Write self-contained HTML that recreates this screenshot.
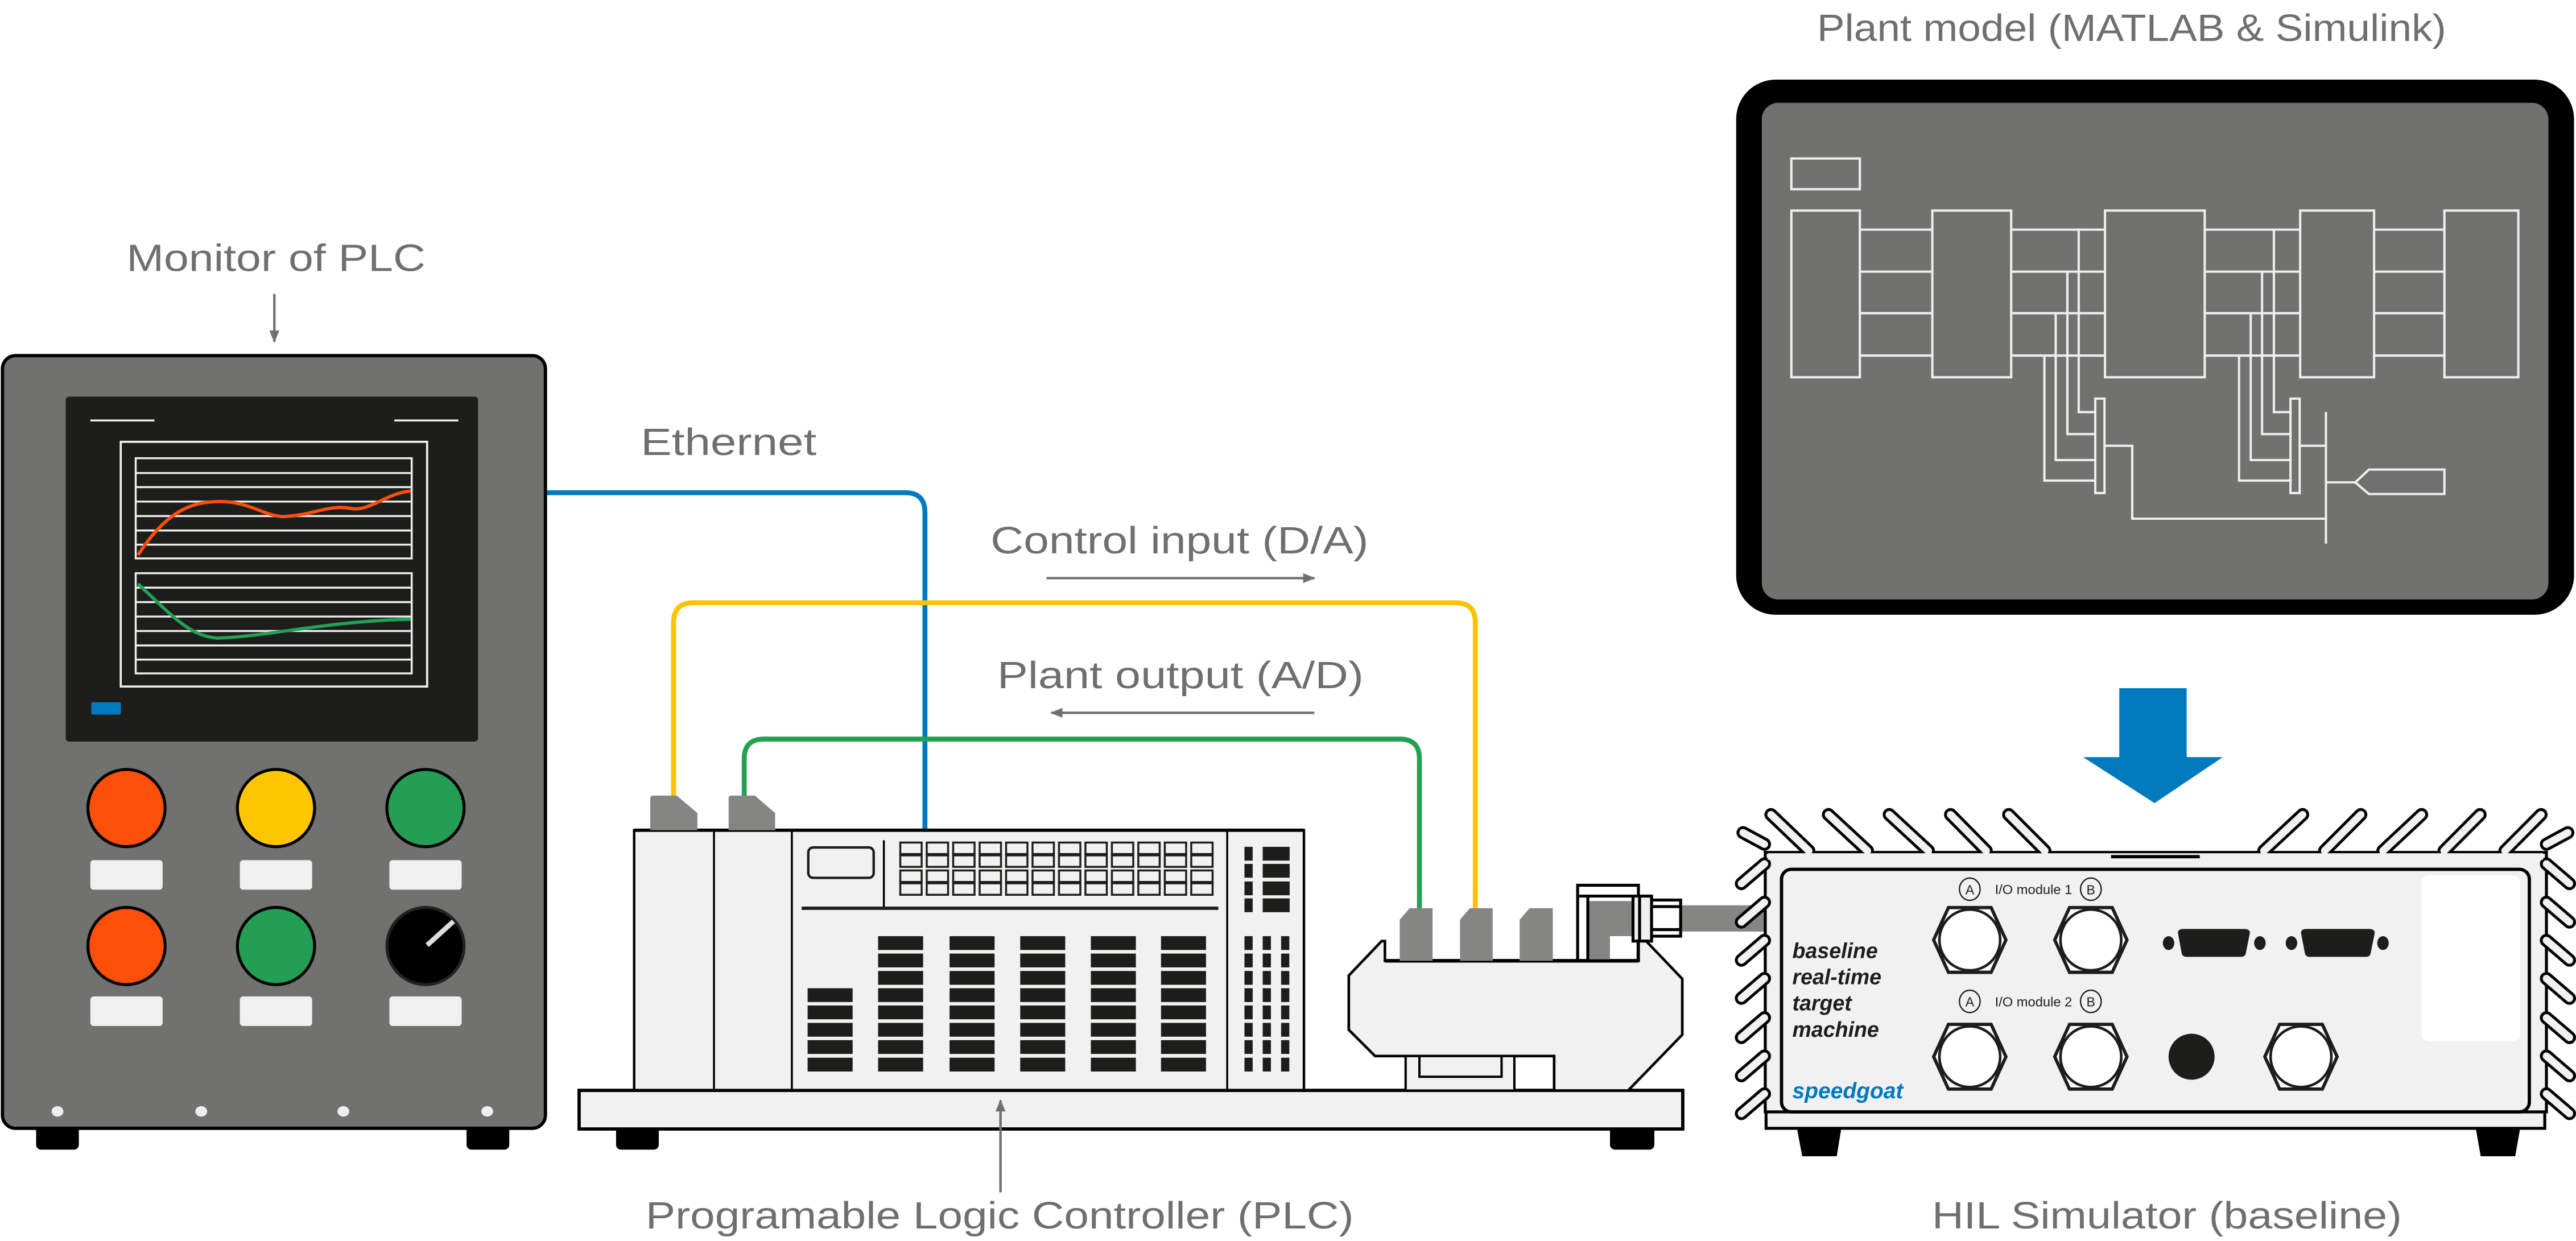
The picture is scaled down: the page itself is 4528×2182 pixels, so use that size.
<!DOCTYPE html>
<html><head><meta charset="utf-8"><style>
html,body{margin:0;padding:0;background:#fff;}
svg{display:block;}
text{font-family:"Liberation Sans",sans-serif;}
</style></head><body>
<svg width="4528" height="2182" viewBox="0 0 1568 755.6" xmlns="http://www.w3.org/2000/svg">
<rect width="1568" height="756" fill="#fff"/>
<defs>
<marker id="ah" viewBox="0 0 10 10" refX="9" refY="5" markerWidth="5" markerHeight="5" orient="auto"><path d="M0,1 L10,5 L0,9 Z" fill="#707070"/></marker>
</defs>

<!-- labels -->
<g fill="#6f6f6e" font-size="23">
<text x="1106" y="25" textLength="383" lengthAdjust="spacingAndGlyphs">Plant model (MATLAB &amp; Simulink)</text>
<text x="77" y="165" textLength="182" lengthAdjust="spacingAndGlyphs">Monitor of PLC</text>
<text x="390" y="277" textLength="107" lengthAdjust="spacingAndGlyphs">Ethernet</text>
<text x="603" y="337" textLength="230" lengthAdjust="spacingAndGlyphs">Control input (D/A)</text>
<text x="607" y="419" textLength="223" lengthAdjust="spacingAndGlyphs">Plant output (A/D)</text>
<text x="393" y="748" textLength="431" lengthAdjust="spacingAndGlyphs">Programable Logic Controller (PLC)</text>
<text x="1176" y="748" textLength="286" lengthAdjust="spacingAndGlyphs">HIL Simulator (baseline)</text>
</g>
<g stroke="#707070" stroke-width="1.5" fill="none" marker-end="url(#ah)">
<line x1="167" y1="179" x2="167" y2="208"/>
<line x1="637" y1="352" x2="800" y2="352"/>
<line x1="800" y1="434" x2="640" y2="434"/>
</g>

<!-- wires -->
<path d="M332,300 H551 Q563,300 563,312 V506" fill="none" stroke="#0079bd" stroke-width="3"/>
<path d="M410,486 V379 Q410,367 422,367 H886 Q898,367 898,379 V555" fill="none" stroke="#fec200" stroke-width="3"/>
<path d="M453,486 V462 Q453,450 465,450 H852 Q864,450 864,462 V555" fill="none" stroke="#22a055" stroke-width="3"/>

<!-- PLC monitor -->
<rect x="22" y="684" width="26" height="16" rx="3" fill="#000"/>
<rect x="284" y="684" width="26" height="16" rx="3" fill="#000"/>
<rect x="1.5" y="216.5" width="330.5" height="470.5" rx="8" fill="#717270" stroke="#000" stroke-width="2"/>
<rect x="40" y="241.5" width="251" height="210" rx="2" fill="#1d1d1b"/>
<g stroke="#eee" stroke-width="1.2"><line x1="55" y1="256" x2="94" y2="256"/><line x1="240" y1="256" x2="279" y2="256"/></g>
<rect x="73.5" y="269" width="186.5" height="149" fill="none" stroke="#eee" stroke-width="1.3"/>
<g fill="none" stroke="#eee" stroke-width="1.2">
<rect x="82.6" y="279" width="168" height="61"/>
<path d="M83,288 H250 M83,296.6 H250 M83,305.4 H250 M83,314.2 H250 M83,323 H250 M83,331.6 H250"/>
<rect x="82.6" y="349" width="168" height="61"/>
<path d="M83,357.8 H250 M83,366.6 H250 M83,375.4 H250 M83,384.2 H250 M83,393 H250 M83,401.6 H250"/>
</g>
<path d="M84,338 C100,313 115,306 130,305.5 C150,304 160,314 172,314.5 C190,314 200,307 213,309.5 C225,312 235,300 250,299" fill="none" stroke="#fb4f0a" stroke-width="2"/>
<path d="M84,355.5 C105,375 115,387 132,388.5 C160,388 200,378 250,377" fill="none" stroke="#22a055" stroke-width="2"/>
<rect x="55.6" y="427.6" width="18" height="7.5" rx="1" fill="#0079bd"/>
<g stroke="#000" stroke-width="1.8">
<circle cx="77" cy="492" r="23.5" fill="#fb4f0a"/>
<circle cx="168" cy="492" r="23.5" fill="#fec600"/>
<circle cx="259" cy="492" r="23.5" fill="#239f55"/>
<circle cx="77" cy="576" r="23.5" fill="#fb4f0a"/>
<circle cx="168" cy="576" r="23.5" fill="#239f55"/>
<circle cx="259" cy="576" r="23.5" fill="#000" stroke="#222"/>
</g>
<line x1="260" y1="575.5" x2="276" y2="561" stroke="#ddd" stroke-width="3"/>
<g fill="#f0f0f0">
<rect x="55" y="523.7" width="44" height="18" rx="2"/><rect x="146" y="523.7" width="44" height="18" rx="2"/><rect x="237" y="523.7" width="44" height="18" rx="2"/>
<rect x="55" y="606.7" width="44" height="18" rx="2"/><rect x="146" y="606.7" width="44" height="18" rx="2"/><rect x="237" y="606.7" width="44" height="18" rx="2"/>
</g>
<g fill="#eee"><ellipse cx="35" cy="676.7" rx="3.6" ry="3.2"/><ellipse cx="122.5" cy="676.7" rx="3.6" ry="3.2"/><ellipse cx="209" cy="676.7" rx="3.6" ry="3.2"/><ellipse cx="296.6" cy="676.7" rx="3.6" ry="3.2"/></g>

<!-- PLC -->
<rect x="375" y="684" width="26" height="16" rx="3" fill="#000"/>
<rect x="980" y="684" width="27" height="16" rx="3" fill="#000"/>
<rect x="352.5" y="663.9" width="671.8" height="23.5" fill="#f1f1f1" stroke="#000" stroke-width="2"/>
<line x1="609" y1="726" x2="609" y2="670" stroke="#707070" stroke-width="1.5" marker-end="url(#ah)"/>
<rect x="386" y="505.5" width="407.7" height="158.2" fill="#f1f1f1" stroke="#000" stroke-width="1.5"/>
<line x1="386" y1="505.5" x2="793.7" y2="505.5" stroke="#000" stroke-width="2"/>
<g stroke="#000" stroke-width="1.2"><line x1="434.6" y1="505.5" x2="434.6" y2="663.7"/><line x1="482" y1="505.5" x2="482" y2="663.7"/><line x1="747" y1="505.5" x2="747" y2="663.7"/><line x1="538" y1="511.6" x2="538" y2="552.2"/></g>
<line x1="488" y1="553" x2="741.6" y2="553" stroke="#1d1d1b" stroke-width="2"/>
<rect x="492" y="516" width="39.8" height="18.5" rx="3" fill="#f1f1f1" stroke="#1d1d1b" stroke-width="1.5"/>
<g fill="#858684">
<path d="M395.8,505.5 V486 Q395.8,484.4 397.5,484.4 H412 L424.5,495 V505.5 Z"/>
<path d="M443.5,505.5 V486 Q443.5,484.4 445.2,484.4 H459.5 L471.8,495 V505.5 Z"/>
</g>
<g id="sg" fill="#f1f1f1" stroke="#1d1d1b" stroke-width="1.2">
<rect x="548" y="513" width="13" height="7"/><rect x="564.1" y="513" width="13" height="7"/><rect x="580.2" y="513" width="13" height="7"/><rect x="596.3" y="513" width="13" height="7"/><rect x="612.4" y="513" width="13" height="7"/><rect x="628.5" y="513" width="13" height="7"/><rect x="644.6" y="513" width="13" height="7"/><rect x="660.7" y="513" width="13" height="7"/><rect x="676.8" y="513" width="13" height="7"/><rect x="692.9" y="513" width="13" height="7"/><rect x="709" y="513" width="13" height="7"/><rect x="725.1" y="513" width="13" height="7"/>
</g>
<use href="#sg" y="7.8"/><use href="#sg" y="17"/><use href="#sg" y="24.8"/>
<g fill="#1d1d1b">
<rect x="757.5" y="515.6" width="5" height="8.4"/><rect x="768.6" y="515.6" width="16.4" height="8.4"/>
<rect x="757.5" y="526" width="5" height="8.4"/><rect x="768.6" y="526" width="16.4" height="8.4"/>
<rect x="757.5" y="536.7" width="5" height="8.4"/><rect x="768.6" y="536.7" width="16.4" height="8.4"/>
<rect x="757.5" y="547" width="5" height="8.4"/><rect x="768.6" y="547" width="16.4" height="8.4"/>
</g>
<g id="bigrow" fill="#1d1d1b">
<rect x="534.5" y="570" width="27.4" height="8.4"/><rect x="578" y="570" width="27.4" height="8.4"/><rect x="621" y="570" width="27.4" height="8.4"/><rect x="664" y="570" width="27.4" height="8.4"/><rect x="706.7" y="570" width="27.4" height="8.4"/>
<rect x="757.5" y="570" width="5" height="8.4"/><rect x="768.6" y="570" width="5" height="8.4"/><rect x="779.8" y="570" width="5" height="8.4"/>
</g>
<use href="#bigrow" y="10.6"/><use href="#bigrow" y="21.2"/>
<use href="#bigrow" y="31.7"/><use href="#bigrow" y="42.2"/><use href="#bigrow" y="52.8"/><use href="#bigrow" y="63.3"/><use href="#bigrow" y="74"/>
<g fill="#1d1d1b">
<rect x="491.6" y="601.7" width="27.4" height="8.4"/><rect x="491.6" y="612.2" width="27.4" height="8.4"/><rect x="491.6" y="622.8" width="27.4" height="8.4"/><rect x="491.6" y="633.3" width="27.4" height="8.4"/><rect x="491.6" y="644" width="27.4" height="8.4"/>
</g>

<!-- terminal module -->
<rect x="1020" y="551.2" width="58" height="16" fill="#858684"/>
<path d="M843,573 L843,585 L997,585 L997,573 L1002,573 L1024,596 L1024,630 L991,664 L946,664 L946,643 L837,643 L821,627 L821,594 L841,573 Z" fill="#f1f1f1" stroke="#000" stroke-width="1.6"/>
<line x1="843" y1="585" x2="997" y2="585" stroke="#000" stroke-width="2.2"/>
<g fill="#f1f1f1" stroke="#000" stroke-width="1.4"><rect x="855.6" y="643" width="66.2" height="21"/><rect x="864" y="643" width="50" height="12.6"/></g>
<g fill="#858684">
<path d="M852,585 V560 L858,553 H872 V585 Z"/>
<path d="M888.7,585 V560 L894.7,553 H908.6 V585 Z"/>
<path d="M925,585 V560 L931,553 H945.2 V585 Z"/>
<path d="M966.8,548.6 H994 V570 H980 V585 H966.8 Z"/>
</g>
<g fill="none" stroke="#000" stroke-width="1.8">
<rect x="960.3" y="539" width="37" height="46"/>
<line x1="960.3" y1="545.6" x2="997.3" y2="545.6"/>
<line x1="966.5" y1="545.6" x2="966.5" y2="585"/>
<rect x="994" y="545.6" width="11.3" height="27.4" fill="#f1f1f1"/>
<line x1="998" y1="545.6" x2="998" y2="573"/>
<rect x="1005.3" y="548" width="17.7" height="22" fill="#fff"/>
<line x1="1005.3" y1="552" x2="1023" y2="552"/><line x1="1005.3" y1="566" x2="1023" y2="566"/>
</g>

<!-- Simulink screen -->
<rect x="1056.8" y="48.5" width="510" height="325.8" rx="24" fill="#000"/>
<rect x="1072.4" y="62.6" width="478.8" height="302.4" rx="10" fill="#717270"/>
<g fill="none" stroke="#eee" stroke-width="1.4">
<rect x="1090.4" y="96.5" width="41.7" height="18.7"/>
<rect x="1090.4" y="128.2" width="41.7" height="101.5"/>
<rect x="1176.2" y="128.2" width="48" height="101.5"/>
<rect x="1281.3" y="128.2" width="60.7" height="101.5"/>
<rect x="1400.1" y="128.2" width="45" height="101.5"/>
<rect x="1487.9" y="128.2" width="45" height="101.5"/>
<path d="M1132,139.8 H1176 M1132,165.4 H1176 M1132,190.7 H1176 M1132,216.5 H1176"/>
<path d="M1224,139.8 H1281 M1224,165.4 H1281 M1224,190.7 H1281 M1224,216.5 H1281"/>
<path d="M1342,139.8 H1400 M1342,165.4 H1400 M1342,190.7 H1400 M1342,216.5 H1400"/>
<path d="M1445,139.8 H1488 M1445,165.4 H1488 M1445,190.7 H1488 M1445,216.5 H1488"/>
<path d="M1265.3,139.8 V250.9 H1276 M1258.4,165.4 V264.3 H1276 M1251.3,190.7 V280.1 H1276 M1244.4,216.5 V292.6 H1276"/>
<rect x="1275.4" y="242.7" width="5.6" height="57.5"/>
<path d="M1281,271.4 H1297.9 V315.8 H1415.8"/>
<path d="M1384.1,139.8 V250.9 H1395 M1376.9,165.4 V264.3 H1395 M1370,190.7 V280.1 H1395 M1362.9,216.5 V292.6 H1395"/>
<rect x="1394.2" y="242.7" width="5.6" height="57.5"/>
<path d="M1399.8,271.4 H1415.8 M1415.8,250.9 V331 M1415.8,293.7 H1433.7"/>
<path d="M1433.7,293.7 L1441.9,285.9 H1487.9 V300.8 H1441.9 Z"/>
</g>

<!-- blue arrow -->
<path d="M1290,419 H1331 V461 H1353 L1311.5,489 L1268,461 H1290 Z" fill="#0079bd"/>

<!-- HIL simulator -->
<path d="M1093.8,687 H1120.8 L1118,704 H1097 Z" fill="#000"/>
<path d="M1507,687 H1534 L1531,704 H1510 Z" fill="#000"/>
<rect x="1074.5" y="519" width="475.5" height="158" fill="#f1f1f1" stroke="#000" stroke-width="1.8"/>
<g stroke-linecap="round">
<g stroke="#000" stroke-width="8">
<path d="M1101,518 L1078,496 M1136.7,518 L1113,496 M1173.8,518 L1150,496 M1209,518 L1187.3,496 M1244.7,518 L1222.7,496"/>
<path d="M1378,518 L1401.6,496 M1415,518 L1437,496 M1450.5,518 L1474,496 M1487.7,518 L1509.6,496 M1524.8,518 L1546.7,496"/>
<path d="M1074,514 L1061,507 M1550,514 L1563,507"/>
<path d="M1074,526 L1060,538 M1074,549.4 L1060,561.4 M1074,572.6 L1060,584.6 M1074,595.8 L1060,607.8 M1074,619.7 L1060,631.7 M1074,643 L1060,655 M1074,666 L1060,678"/>
<path d="M1550,526 L1564,538 M1550,549.4 L1564,561.4 M1550,572.6 L1564,584.6 M1550,595.8 L1564,607.8 M1550,619.7 L1564,631.7 M1550,643 L1564,655 M1550,666 L1564,678"/>
</g>
<g stroke="#f1f1f1" stroke-width="4.5">
<path d="M1101,518 L1078,496 M1136.7,518 L1113,496 M1173.8,518 L1150,496 M1209,518 L1187.3,496 M1244.7,518 L1222.7,496"/>
<path d="M1378,518 L1401.6,496 M1415,518 L1437,496 M1450.5,518 L1474,496 M1487.7,518 L1509.6,496 M1524.8,518 L1546.7,496"/>
<path d="M1074,514 L1061,507 M1550,514 L1563,507"/>
<path d="M1074,526 L1060,538 M1074,549.4 L1060,561.4 M1074,572.6 L1060,584.6 M1074,595.8 L1060,607.8 M1074,619.7 L1060,631.7 M1074,643 L1060,655 M1074,666 L1060,678"/>
<path d="M1550,526 L1564,538 M1550,549.4 L1564,561.4 M1550,572.6 L1564,584.6 M1550,595.8 L1564,607.8 M1550,619.7 L1564,631.7 M1550,643 L1564,655 M1550,666 L1564,678"/>
</g>
</g>
<rect x="1076" y="519.5" width="472" height="4" fill="#f1f1f1"/>
<line x1="1285" y1="521.6" x2="1339" y2="521.6" stroke="#000" stroke-width="2"/>
<rect x="1075" y="677" width="474" height="10" fill="#f1f1f1" stroke="#000" stroke-width="1.8"/>
<rect x="1084.4" y="529.3" width="455.2" height="147.7" rx="6" fill="#f1f1f1" stroke="#000" stroke-width="2"/>
<rect x="1474" y="533" width="60" height="101" rx="4" fill="#fff"/>
<g font-style="italic" font-weight="bold" font-size="13" fill="#1d1d1b">
<text x="1091" y="583.4">baseline</text>
<text x="1091" y="599.2">real-time</text>
<text x="1091" y="615.2">target</text>
<text x="1091" y="631.3">machine</text>
</g>
<text x="1091" y="668.7" font-style="italic" font-weight="bold" font-size="13.5" fill="#0079bd">speedgoat</text>
<g font-size="8" fill="#1d1d1b">
<text x="1214.3" y="544.4" textLength="47" lengthAdjust="spacingAndGlyphs">I/O module 1</text>
<text x="1214.3" y="612.7" textLength="47" lengthAdjust="spacingAndGlyphs">I/O module 2</text>
</g>
<g fill="none" stroke="#1d1d1b" stroke-width="0.8">
<ellipse cx="1199" cy="541.4" rx="6.3" ry="6.8"/><ellipse cx="1272.7" cy="541.4" rx="6.3" ry="6.8"/>
<ellipse cx="1199" cy="609.7" rx="6.3" ry="6.8"/><ellipse cx="1272.7" cy="609.7" rx="6.3" ry="6.8"/>
</g>
<g font-size="8" fill="#1d1d1b" text-anchor="middle">
<text x="1199" y="544.5">A</text><text x="1272.7" y="544.5">B</text>
<text x="1199" y="612.8">A</text><text x="1272.7" y="612.8">B</text>
</g>
<g id="bnc" fill="#fff" stroke="#1d1d1b">
<path d="M-22,0 L-13,-19.7 H13 L22,0 L13,19.7 H-13 Z" stroke-width="2" transform="translate(1199,572.3)"/>
<ellipse cx="1199" cy="572.3" rx="18.5" ry="18.5" stroke-width="1.6"/>
</g>
<use href="#bnc" x="73.7"/>
<use href="#bnc" y="71.1"/>
<use href="#bnc" x="73.7" y="71.1"/>
<use href="#bnc" x="201.6" y="71.1"/>
<circle cx="1334" cy="643.4" r="14" fill="#1d1d1b"/>
<g fill="#1d1d1b">
<path d="M1325.7,568 Q1325.7,565.6 1329,565.6 H1366 Q1369.5,565.6 1369.5,568 L1367,580.5 Q1366.5,582.6 1364,582.6 H1331 Q1328.5,582.6 1328,580.5 Z"/>
<path d="M1400.6,568 Q1400.6,565.6 1404,565.6 H1442 Q1445.5,565.6 1445.5,568 L1443,580.5 Q1442.5,582.6 1440,582.6 H1406 Q1403.5,582.6 1403,580.5 Z"/>
<ellipse cx="1320" cy="574.2" rx="3.5" ry="4.2"/><ellipse cx="1375.6" cy="574.2" rx="3.5" ry="4.2"/>
<ellipse cx="1394.8" cy="574.2" rx="3.5" ry="4.2"/><ellipse cx="1450.5" cy="574.2" rx="3.5" ry="4.2"/>
</g>
</svg>
</body></html>
